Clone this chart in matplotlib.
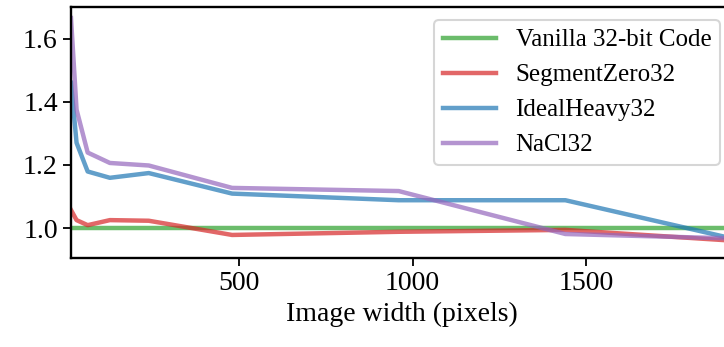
import matplotlib
matplotlib.use('Agg')
import matplotlib.pyplot as plt

# image widths (pixels)
widths = [16, 32, 64, 128, 240, 480, 960, 1440, 1920]

vanilla = [1.0, 1.0, 1.0, 1.0, 1.0, 1.0, 1.0, 1.0, 1.0]
segment_zero = [1.057, 1.025, 1.009, 1.025, 1.023, 0.978, 0.988, 0.994, 0.960]
ideal_heavy = [1.46, 1.27, 1.179, 1.159, 1.174, 1.109, 1.088, 1.088, 0.967]
nacl = [1.665, 1.375, 1.239, 1.206, 1.198, 1.127, 1.117, 0.981, 0.967]

labels = ['Vanilla 32-bit Code', 'SegmentZero32', 'IdealHeavy32', 'NaCl32']
colors = ['tab:green', 'tab:red', 'tab:blue', 'tab:purple']

plt.rcParams['font.family'] = ['Liberation Serif', 'DejaVu Serif']
plt.rcParams['font.size'] = 20

fig = plt.figure(figsize=(7.24, 3.47), dpi=100)
# right edge of the axes falls just outside the picture, as in the original crop
ax = fig.add_axes([71 / 724, 1 - 258 / 347, 661 / 724, 251 / 347])

for series, label, color in zip([vanilla, segment_zero, ideal_heavy, nacl], labels, colors):
    ax.plot(widths, series, color=color, alpha=0.7, linewidth=3.2, label=label)

ax.set_xlim(16, 1920)
ax.set_ylim(0.905, 1.70)
ax.set_xticks([500, 1000, 1500])
ax.set_yticks([1.0, 1.2, 1.4, 1.6])
ax.set_yticklabels(['1.0', '1.2', '1.4', '1.6'])
ax.set_xlabel('Image width (pixels)', labelpad=4)
ax.tick_params(width=1.3, length=6)
for spine in ax.spines.values():
    spine.set_linewidth(1.7)

leg = ax.legend(loc='upper right', bbox_to_anchor=(720 / 724, 1 - 20 / 347),
                bbox_transform=fig.transFigure, borderaxespad=0, fontsize=18,
                handlelength=2.1, borderpad=0.35, labelspacing=0.5)
leg.get_frame().set_linewidth(1.5)

fig.savefig('out.png', dpi=100)
